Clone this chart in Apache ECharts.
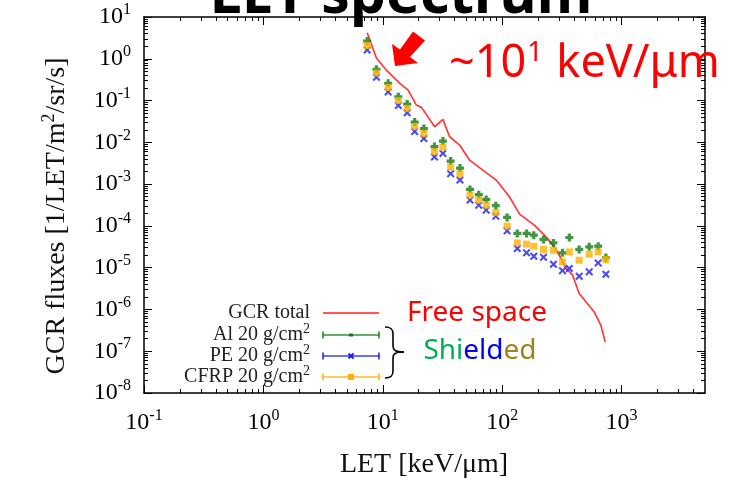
<!DOCTYPE html>
<html><head><meta charset="utf-8">
<script src="https://cdn.jsdelivr.net/npm/echarts@6/dist/echarts.min.js"></script>
<style>html,body{margin:0;padding:0;background:#fff}#c{width:756px;height:484px}</style>
</head><body><div id="c"></div>
<script>
// ---- tick labels (exponents of 10) ----
const xTickExps = [-1, 0, 1, 2, 3];
const yTickExps = [-8, -7, -6, -5, -4, -3, -2, -1, 0, 1];

// ---- GCR total (free space) ----
const letFree  = [7.4, 8.86, 10.7, 13.9, 16.3, 19.1, 21.1, 27.2, 31.9, 36.3, 44.0, 53.3, 64.6, 89.1, 115, 140, 186, 233, 274, 311, 343, 389, 442, 590, 671, 729];
const fluxFree = [4.2, 1.03, 0.538, 0.258, 0.178, 0.078, 0.0687, 0.0236, 0.0355, 0.0136, 0.0086, 0.00376, 0.00248, 0.00125, 4.97e-4, 1.91e-4, 1.04e-4, 5.47e-5, 3.15e-5, 1.66e-5, 9.6e-6, 6.6e-6, 2.41e-6, 8.7e-7, 4.2e-7, 1.67e-7];

// ---- shielded spectra ----
const letShield = [7.4, 8.85, 11.1, 13.5, 16.0, 18.5, 22.1, 27.1, 31.9, 37.0, 44.3, 53.8, 63.7, 73.5, 88.5, 110, 134, 160, 184, 222, 269, 320, 365, 442, 536, 637, 739];
const fluxAl   = [2.66, 0.558, 0.258, 0.123, 0.0824, 0.0306, 0.0213, 0.0079, 0.0107, 0.00356, 0.00242, 7.46e-4, 5.6e-4, 4.3e-4, 3.05e-4, 1.59e-4, 6.59e-5, 6.59e-5, 6.0e-5, 4.73e-5, 3.92e-5, 2.26e-5, 5.28e-5, 2.73e-5, 3.15e-5, 3.27e-5, 1.75e-5];
const fluxPE   = [1.62, 0.36, 0.16, 0.0759, 0.051, 0.0181, 0.0123, 0.00444, 0.00543, 0.00178, 0.00125, 4.14e-4, 3.14e-4, 2.38e-4, 1.71e-4, 7.6e-5, 2.88e-5, 2.26e-5, 1.88e-5, 1.78e-5, 1.21e-5, 8.48e-6, 9.57e-6, 6.25e-6, 7.93e-6, 1.3e-5, 6.98e-6];
const fluxCFRP = [2.08, 0.456, 0.205, 0.1, 0.065, 0.0238, 0.0164, 0.006, 0.0077, 0.00255, 0.00174, 5.46e-4, 4.14e-4, 3.14e-4, 2.08e-4, 9.86e-5, 3.92e-5, 3.66e-5, 3.27e-5, 2.73e-5, 2.62e-5, 1.38e-5, 2.39e-5, 1.51e-5, 2.1e-5, 2.39e-5, 1.57e-5];

const seriesNames = ['GCR total', 'Al 20 g/cm', 'PE 20 g/cm', 'CFRP 20 g/cm'];

const X_MIN = 0.1, X_MAX = 5000, Y_MIN = 1e-8, Y_MAX = 10;
const serif = "'Liberation Serif','Times New Roman',serif";
const sans = "'Noto Sans','Open Sans',sans-serif";
const C_RED = '#ff3a3a', C_GREEN = '#137a13', C_BLUE = '#1a1af5', C_ORANGE = '#ffb000';
const SYM_PLUS = 'path://M3,0H7V3H10V7H7V10H3V7H0V3H3Z';
const SYM_X = 'path://M0,1.8L1.8,0L5,3.2L8.2,0L10,1.8L6.8,5L10,8.2L8.2,10L5,6.8L1.8,10L0,8.2L3.2,5Z';

const zip = (a, b) => a.map((v, i) => [v, b[i]]);
function minorVals(lo, hi) {
  const out = [];
  for (let n = Math.floor(lo); n <= Math.ceil(hi); n++)
    for (let k = 2; k <= 9; k++) { const v = n + Math.log10(k); if (v > lo && v < hi) out.push(v); }
  return out;
}
function powLabel(exps) {
  return function (v) {
    const l = Math.log10(v), e = Math.round(l);
    if (Math.abs(l - e) > 1e-6 || exps.indexOf(e) < 0) return '';
    return '{b|10}{s|' + e + '}';
  };
}
const labRich = {
  b: { fontFamily: serif, fontSize: 24, color: '#000' },
  s: { fontFamily: serif, fontSize: 16, color: '#000', padding: [0, 0, 14, 0] }
};
const gridRect = { left: 144, top: 17, width: 561, height: 376 };
const axLine = { show: true, onZero: false, lineStyle: { color: '#000', width: 1.5 } };
const majTick = { show: true, inside: true, length: 8, lineStyle: { color: '#000', width: 1 } };

function logX(pos, labels) {
  return { gridIndex: 0, type: 'log', logBase: 10, position: pos, min: X_MIN, max: X_MAX,
    axisLine: axLine, axisTick: majTick, splitLine: { show: false }, minorTick: { show: false },
    axisLabel: labels ? { show: true, formatter: powLabel(xTickExps), rich: labRich, margin: 15, showMaxLabel: false, hideOverlap: false } : { show: false } };
}
function logY(pos, labels) {
  return { gridIndex: 0, type: 'log', logBase: 10, position: pos, min: Y_MIN, max: Y_MAX,
    axisLine: axLine, axisTick: majTick, splitLine: { show: false }, minorTick: { show: false },
    axisLabel: labels ? { show: true, formatter: powLabel(yTickExps), rich: labRich, margin: 13, hideOverlap: false } : { show: false } };
}
function minorAxis(pos, lo, hi) {
  return { gridIndex: 1, type: 'value', position: pos, min: lo, max: hi,
    axisLine: { show: false, onZero: false }, splitLine: { show: false }, axisLabel: { show: false },
    axisTick: { show: true, inside: true, length: 4, customValues: minorVals(lo, hi), lineStyle: { color: '#000', width: 1 } } };
}

// ---- legend + annotations (decorations) ----
const graphics = [];
const rows = [313, 335, 356, 377];
const legColors = [C_RED, C_GREEN, C_BLUE, C_ORANGE];
seriesNames.forEach((nm, i) => {
  const y = rows[i];
  graphics.push({ type: 'text', x: 310, y: y, z: 50, style: {
    text: i === 0 ? nm : nm + '{s|2}', align: 'right', verticalAlign: 'middle',
    fontFamily: serif, fontSize: 20, fill: '#222',
    rich: { s: { fontFamily: serif, fontSize: 14, fill: '#222', padding: [0, 0, 12, 0] } } } });
  graphics.push({ type: 'line', z: 50, shape: { x1: 323, y1: y, x2: 379, y2: y }, style: { stroke: legColors[i], lineWidth: i === 0 ? 1.8 : 1.5, opacity: 0.85 } });
  if (i > 0) {
    graphics.push({ type: 'line', z: 50, shape: { x1: 323, y1: y - 3.5, x2: 323, y2: y + 3.5 }, style: { stroke: legColors[i], lineWidth: 1.5 } });
    graphics.push({ type: 'line', z: 50, shape: { x1: 379, y1: y - 3.5, x2: 379, y2: y + 3.5 }, style: { stroke: legColors[i], lineWidth: 1.5 } });
  }
});
// legend markers
graphics.push({ type: 'rect', z: 51, shape: { x: 349, y: 333.5, width: 4, height: 3 }, style: { fill: C_GREEN } });
graphics.push({ type: 'line', z: 51, shape: { x1: 348.5, y1: 353.5, x2: 353.5, y2: 358.5 }, style: { stroke: C_BLUE, lineWidth: 1.8 } });
graphics.push({ type: 'line', z: 51, shape: { x1: 348.5, y1: 358.5, x2: 353.5, y2: 353.5 }, style: { stroke: C_BLUE, lineWidth: 1.8 } });
graphics.push({ type: 'rect', z: 51, shape: { x: 348, y: 374, width: 6, height: 6 }, style: { fill: C_ORANGE } });
// brace
const braceStyle = { stroke: '#000', lineWidth: 1.6, fill: null };
[
  { x1: 385, y1: 327, cpx1: 391, cpy1: 327, cpx2: 393, cpy2: 329, x2: 393, y2: 334 },
  { x1: 393, y1: 346, cpx1: 393, cpy1: 350, cpx2: 395, cpy2: 352, x2: 404, y2: 352 },
  { x1: 404, y1: 352, cpx1: 395, cpy1: 352, cpx2: 393, cpy2: 354, x2: 393, y2: 358 },
  { x1: 393, y1: 371, cpx1: 393, cpy1: 376, cpx2: 391, cpy2: 378, x2: 385, y2: 378 }
].forEach(s => graphics.push({ type: 'bezierCurve', z: 50, shape: s, style: braceStyle }));
graphics.push({ type: 'line', z: 50, shape: { x1: 393, y1: 334, x2: 393, y2: 346 }, style: braceStyle });
graphics.push({ type: 'line', z: 50, shape: { x1: 393, y1: 358, x2: 393, y2: 371 }, style: braceStyle });
// Free space / Shielded
graphics.push({ type: 'text', x: 477, y: 313, z: 50, style: { text: 'Free space', align: 'center', verticalAlign: 'middle', fontFamily: sans, fontSize: 28, fill: '#ff0000' } });
graphics.push({ type: 'text', x: 480, y: 351, z: 50, style: { text: '{g|Shi}{b|eld}{o|ed}', align: 'center', verticalAlign: 'middle', fontFamily: sans, fontSize: 28,
  rich: { g: { fontFamily: sans, fontSize: 28, fill: '#00b050' }, b: { fontFamily: sans, fontSize: 28, fill: '#0000ff' }, o: { fontFamily: sans, fontSize: 28, fill: '#a08218' } } } });
// ~10^1 keV/um
graphics.push({ type: 'text', x: 449, y: 64, z: 60, style: { text: '~10{s|1} keV/μm', align: 'left', verticalAlign: 'middle', fontFamily: sans, fontSize: 45, fill: '#ff0000',
  rich: { s: { fontFamily: sans, fontSize: 27, fill: '#ff0000', padding: [0, 2, 21, 1] } } } });
// red arrow
graphics.push({ type: 'polygon', z: 60, shape: { points: [[395, 66], [392, 44], [400, 49.5], [413, 31.5], [425, 40.5], [410, 57], [418, 63]] }, style: { fill: '#ff0000' } });
// title (cut off at top)
graphics.push({ type: 'text', x: 401, y: -3, z: 70, style: { text: 'LET spectrum', align: 'center', verticalAlign: 'middle', fontFamily: sans, fontWeight: 'bold', fontSize: 57, fill: '#000' } });
// axis titles
graphics.push({ type: 'text', x: 424, y: 465, z: 50, style: { text: 'LET [keV/μm]', align: 'center', verticalAlign: 'middle', fontFamily: serif, fontSize: 28, fill: '#111' } });
graphics.push({ type: 'text', x: 57, y: 216, rotation: Math.PI / 2, z: 50, style: { text: 'GCR fluxes [1/LET/m{s|2}/sr/s]', align: 'center', verticalAlign: 'middle', fontFamily: serif, fontSize: 28, fill: '#111',
  rich: { s: { fontFamily: serif, fontSize: 18, fill: '#111', padding: [0, 0, 16, 0] } } } });

const option = {
  animation: false,
  backgroundColor: '#fff',
  grid: [Object.assign({}, gridRect), Object.assign({}, gridRect)],
  xAxis: [logX('bottom', true), logX('top', false),
          minorAxis('bottom', -1, Math.log10(X_MAX)), minorAxis('top', -1, Math.log10(X_MAX))],
  yAxis: [logY('left', true), logY('right', false),
          minorAxis('left', -8, 1), minorAxis('right', -8, 1)],
  series: [
    { name: seriesNames[0], type: 'line', xAxisIndex: 0, yAxisIndex: 0, data: zip(letFree, fluxFree),
      showSymbol: false, symbol: 'none', lineStyle: { color: C_RED, width: 1.7 }, z: 3 },
    { name: seriesNames[1], type: 'scatter', xAxisIndex: 0, yAxisIndex: 0, data: zip(letShield, fluxAl),
      symbol: SYM_PLUS, symbolSize: 8, itemStyle: { color: C_GREEN }, z: 4 },
    { name: seriesNames[2], type: 'scatter', xAxisIndex: 0, yAxisIndex: 0, data: zip(letShield, fluxPE),
      symbol: SYM_X, symbolSize: 8, itemStyle: { color: C_BLUE }, z: 4 },
    { name: seriesNames[3], type: 'scatter', xAxisIndex: 0, yAxisIndex: 0, data: zip(letShield, fluxCFRP),
      symbol: 'rect', symbolSize: 7, itemStyle: { color: C_ORANGE }, z: 5 }
  ],
  graphic: graphics
};
const chart = echarts.init(document.getElementById('c'), null, { renderer: 'canvas' });
chart.setOption(option);
</script></body></html>
